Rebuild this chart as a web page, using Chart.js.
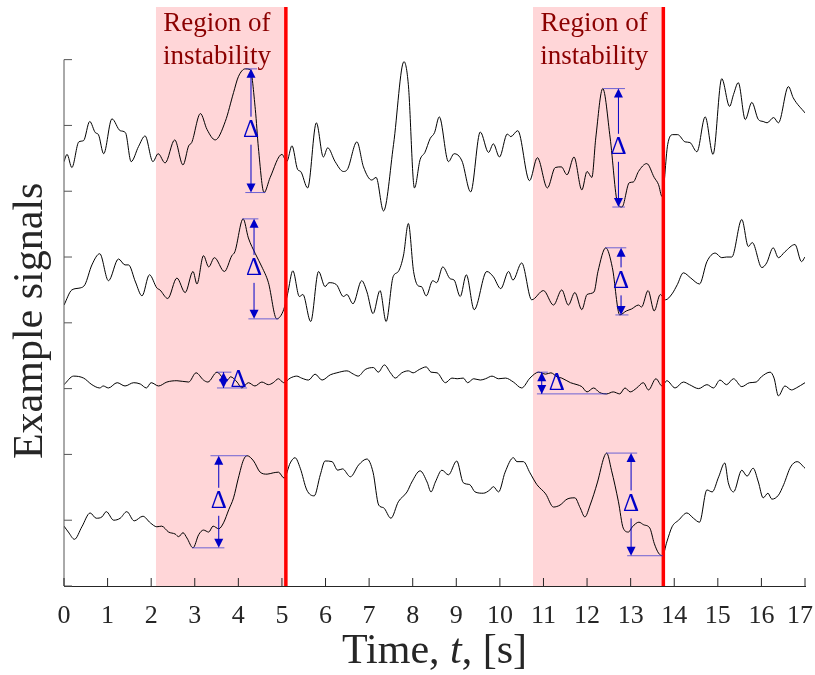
<!DOCTYPE html>
<html>
<head>
<meta charset="utf-8">
<script src="https://cdn.jsdelivr.net/npm/chart.js@4/dist/chart.umd.min.js"></script>
<style>
  html, body { margin: 0; padding: 0; background: #fff; }
  canvas { display: block; }
</style>
</head>
<body>
<canvas id="signals" width="815" height="675"></canvas>
<script>
// Four example traces, top to bottom: sample times [s] and amplitudes
var t1 = [0.00, 0.07, 0.18, 0.34, 0.45, 0.59, 0.72, 0.79, 0.91, 1.10,
          1.29, 1.41, 1.54, 1.71, 1.86, 2.04, 2.16, 2.32, 2.54, 2.73,
          2.86, 2.93, 3.13, 3.28, 3.47, 3.70, 3.89, 4.00, 4.16, 4.27,
          4.39, 4.46, 4.59, 4.73, 5.00, 5.11, 5.23, 5.36, 5.43, 5.59,
          5.79, 5.95, 6.05, 6.22, 6.41, 6.50, 6.72, 6.87, 7.06, 7.16,
          7.33, 7.56, 7.80, 7.90, 8.04, 8.17, 8.28, 8.40, 8.50, 8.61,
          8.82, 8.95, 9.13, 9.33, 9.55, 9.74, 9.85, 9.99, 10.17, 10.25,
          10.41, 10.68, 10.86, 11.09, 11.27, 11.41, 11.54, 11.70, 11.88, 12.00,
          12.11, 12.20, 12.36, 12.53, 12.70, 12.80, 12.97, 13.06, 13.18, 13.37,
          13.54, 13.64, 13.72, 13.85, 13.97, 14.08, 14.25, 14.36, 14.52, 14.71,
          14.89, 15.09, 15.27, 15.36, 15.47, 15.63, 15.78, 15.93, 16.04, 16.13,
          16.28, 16.39, 16.62, 16.73, 17.00];
var s1 = [6.45, 6.56, 6.36, 6.75, 6.77, 7.06, 6.89, 6.86, 6.57, 7.10,
          6.92, 6.89, 6.45, 6.68, 6.84, 6.45, 6.57, 6.43, 6.78, 6.40,
          6.69, 6.74, 7.18, 6.94, 6.78, 7.06, 7.50, 7.74, 7.86, 7.85,
          7.24, 6.66, 5.98, 6.21, 6.56, 6.45, 6.69, 6.33, 6.30, 6.05,
          7.04, 6.52, 6.66, 6.45, 6.30, 6.33, 6.75, 6.37, 6.17, 6.21,
          5.70, 6.71, 7.97, 7.62, 6.05, 6.48, 6.59, 6.80, 6.89, 7.13,
          6.45, 6.57, 6.46, 5.99, 6.90, 6.59, 6.72, 6.52, 6.87, 6.83,
          6.92, 6.16, 6.51, 6.05, 6.36, 6.37, 6.25, 6.52, 6.02, 6.30,
          6.21, 6.81, 7.56, 6.81, 5.82, 5.76, 6.13, 6.14, 6.30, 6.42,
          6.21, 6.10, 5.92, 6.71, 6.86, 6.86, 6.75, 6.74, 6.60, 7.13,
          6.56, 7.71, 7.29, 7.47, 7.65, 7.09, 7.35, 7.09, 7.06, 7.04,
          7.12, 7.04, 7.59, 7.42, 7.19];

var t2 = [0.00, 0.18, 0.37, 0.48, 0.64, 0.82, 1.02, 1.25, 1.40, 1.48,
          1.64, 1.79, 1.96, 2.13, 2.20, 2.38, 2.59, 2.78, 2.96, 3.05,
          3.20, 3.32, 3.45, 3.68, 3.85, 3.92, 4.11, 4.23, 4.39, 4.54,
          4.69, 4.88, 5.04, 5.13, 5.25, 5.40, 5.48, 5.66, 5.84, 5.99,
          6.08, 6.25, 6.41, 6.49, 6.63, 6.83, 6.95, 7.09, 7.25, 7.39,
          7.55, 7.67, 7.79, 7.90, 8.02, 8.13, 8.20, 8.31, 8.46, 8.55,
          8.69, 8.86, 8.95, 9.09, 9.23, 9.41, 9.70, 9.85, 10.02, 10.20,
          10.30, 10.50, 10.73, 11.00, 11.23, 11.42, 11.57, 11.72, 11.88, 12.00,
          12.16, 12.25, 12.43, 12.58, 12.75, 12.90, 13.02, 13.18, 13.25, 13.40,
          13.54, 13.68, 13.80, 13.95, 14.07, 14.21, 14.38, 14.58, 14.75, 14.94,
          15.09, 15.20, 15.32, 15.55, 15.70, 15.79, 16.01, 16.12, 16.27, 16.39,
          16.54, 16.77, 16.92, 17.00];
var s2 = [4.27, 4.50, 4.53, 4.58, 4.88, 5.05, 4.64, 4.97, 4.88, 4.88,
          4.62, 4.41, 4.73, 4.53, 4.50, 4.37, 4.68, 4.46, 4.78, 4.59,
          5.02, 4.85, 4.99, 4.78, 5.02, 5.08, 5.58, 5.29, 5.05, 4.85,
          4.61, 4.06, 4.20, 4.44, 4.79, 4.40, 4.43, 4.02, 4.78, 4.55,
          4.61, 4.58, 4.40, 4.43, 4.29, 4.64, 4.47, 4.14, 4.49, 4.02,
          4.70, 4.78, 5.03, 5.51, 4.78, 4.56, 4.55, 4.41, 4.64, 4.61,
          4.85, 4.67, 4.65, 4.40, 4.73, 4.20, 4.78, 4.70, 4.52, 4.78,
          4.65, 4.91, 4.35, 4.49, 4.27, 4.50, 4.27, 4.46, 4.20, 4.43,
          4.47, 4.78, 5.14, 4.84, 4.12, 4.18, 4.21, 4.27, 4.24, 4.49,
          4.18, 4.43, 4.35, 4.44, 4.58, 4.76, 4.68, 4.59, 4.93, 5.06,
          4.99, 5.00, 5.00, 5.57, 5.16, 5.22, 4.84, 4.91, 5.14, 4.99,
          5.08, 5.19, 4.93, 5.00];

var t3 = [0.00, 0.22, 0.45, 0.64, 0.82, 0.90, 1.02, 1.22, 1.40, 1.60,
          1.75, 1.89, 2.00, 2.17, 2.36, 2.59, 2.86, 3.03, 3.20, 3.30,
          3.51, 3.65, 3.75, 3.82, 3.97, 4.08, 4.23, 4.38, 4.54, 4.69,
          4.80, 4.92, 5.04, 5.19, 5.34, 5.45, 5.61, 5.76, 5.92, 6.11,
          6.26, 6.49, 6.64, 6.75, 6.91, 7.10, 7.21, 7.35, 7.49, 7.60,
          7.75, 7.90, 8.01, 8.15, 8.31, 8.42, 8.56, 8.75, 8.90, 9.02,
          9.16, 9.26, 9.40, 9.55, 9.67, 9.82, 9.97, 10.13, 10.31, 10.50,
          10.69, 10.89, 11.05, 11.17, 11.31, 11.42, 11.62, 11.77, 11.88, 12.00,
          12.15, 12.29, 12.45, 12.60, 12.75, 12.87, 12.99, 13.14, 13.29, 13.41,
          13.58, 13.72, 13.83, 14.02, 14.21, 14.35, 14.56, 14.75, 14.90, 15.05,
          15.20, 15.36, 15.55, 15.73, 15.88, 16.00, 16.20, 16.29, 16.39, 16.54,
          16.69, 16.80, 17.00];
var s3 = [3.06, 3.19, 3.16, 3.06, 3.01, 3.04, 3.01, 3.09, 3.04, 3.09,
          3.07, 3.01, 3.09, 3.04, 3.10, 3.12, 3.10, 3.24, 3.13, 3.10,
          3.25, 3.16, 3.13, 3.18, 3.10, 3.01, 3.09, 3.04, 3.10, 3.06,
          3.09, 3.15, 3.09, 3.16, 3.19, 3.16, 3.13, 3.22, 3.13, 3.21,
          3.24, 3.27, 3.22, 3.19, 3.29, 3.32, 3.25, 3.36, 3.24, 3.16,
          3.24, 3.27, 3.24, 3.29, 3.33, 3.25, 3.24, 3.09, 3.16, 3.15,
          3.16, 3.09, 3.15, 3.13, 3.15, 3.19, 3.15, 3.16, 3.10, 3.01,
          3.16, 3.25, 3.22, 3.24, 3.18, 3.16, 3.09, 3.06, 3.03, 2.95,
          3.01, 2.94, 2.92, 2.95, 2.92, 3.01, 2.95, 3.01, 3.09, 2.98,
          3.15, 3.04, 3.12, 3.01, 3.10, 3.06, 3.00, 3.06, 3.01, 3.13,
          3.06, 3.15, 3.03, 3.09, 3.10, 3.18, 3.25, 3.16, 2.89, 3.04,
          2.98, 3.01, 3.09];

var t4 = [0.00, 0.10, 0.24, 0.41, 0.60, 0.74, 0.87, 0.97, 1.14, 1.29,
          1.44, 1.61, 1.81, 1.98, 2.13, 2.24, 2.40, 2.55, 2.63, 2.73,
          2.82, 2.96, 3.09, 3.20, 3.32, 3.42, 3.55, 3.66, 3.78, 3.89,
          4.00, 4.12, 4.20, 4.35, 4.50, 4.66, 4.80, 4.92, 5.05, 5.19,
          5.30, 5.42, 5.57, 5.74, 5.88, 5.99, 6.15, 6.28, 6.39, 6.57,
          6.76, 6.95, 7.09, 7.22, 7.33, 7.50, 7.67, 7.87, 7.98, 8.17,
          8.33, 8.42, 8.52, 8.67, 8.82, 9.01, 9.16, 9.31, 9.43, 9.62,
          9.77, 9.85, 9.97, 10.12, 10.31, 10.39, 10.54, 10.69, 10.85, 11.05,
          11.23, 11.38, 11.54, 11.72, 11.84, 11.95, 12.07, 12.24, 12.39, 12.45,
          12.56, 12.72, 12.83, 12.95, 13.04, 13.19, 13.30, 13.44, 13.54, 13.64,
          13.73, 13.83, 13.95, 14.10, 14.29, 14.44, 14.58, 14.75, 14.87, 15.02,
          15.16, 15.24, 15.36, 15.55, 15.67, 15.81, 15.93, 16.04, 16.15, 16.24,
          16.39, 16.51, 16.67, 16.82, 17.00];
var s4 = [0.91, 0.82, 0.71, 0.90, 1.11, 1.03, 1.05, 1.13, 1.00, 1.03,
          1.13, 0.99, 1.06, 0.96, 0.90, 0.91, 0.82, 0.79, 0.75, 0.81,
          0.73, 0.58, 0.78, 0.85, 0.82, 0.91, 0.87, 0.96, 1.16, 1.34,
          1.64, 1.92, 1.98, 1.90, 1.73, 1.70, 1.72, 1.73, 1.64, 1.87,
          1.95, 1.79, 1.46, 1.37, 1.69, 1.90, 1.89, 1.76, 1.78, 1.66,
          1.84, 1.93, 1.73, 1.23, 1.19, 1.03, 1.28, 1.43, 1.58, 1.75,
          1.58, 1.43, 1.58, 1.76, 1.69, 1.90, 1.57, 1.54, 1.43, 1.41,
          1.46, 1.51, 1.43, 1.73, 1.95, 1.89, 1.89, 1.72, 1.54, 1.40,
          1.20, 1.23, 1.32, 1.34, 1.19, 1.05, 1.23, 1.58, 1.96, 2.02,
          1.76, 1.28, 0.88, 0.82, 0.90, 0.97, 0.93, 0.88, 0.65, 0.50,
          0.46, 0.67, 0.90, 1.00, 1.11, 1.03, 0.97, 1.46, 1.43, 1.66,
          1.87, 1.57, 1.43, 1.76, 1.67, 1.79, 1.58, 1.34, 1.41, 1.32,
          1.38, 1.54, 1.81, 1.89, 1.79];

// Shaded windows [s]; each ends at the red marker
var regionStart = [2.11, 10.76];
var regionEnd = [5.09, 13.75];
var regionLines = ['Region of', 'instability'];

// Δ markers: arrow time, peak and trough amplitude, and the time extent of each guide line
var deltaTime = [4.29, 12.72, 4.36, 12.78, 3.66, 10.96, 3.55, 13.01];
var deltaHigh = [7.86, 7.56, 5.58, 5.14, 3.25, 3.25, 1.98, 2.02];
var deltaLow  = [5.98, 5.76, 4.06, 4.12, 3.01, 2.92, 0.58, 0.46];
var highFrom  = [4.16, 12.37, 4.09, 12.42, 3.51, 10.85, 3.36, 12.44];
var highTo    = [4.43, 12.87, 4.46, 12.90, 3.84, 11.10, 4.20, 13.15];
var lowFrom   = [4.16, 12.58, 4.23, 12.65, 3.51, 10.85, 2.94, 12.92];
var lowTo     = [4.62, 12.87, 4.92, 12.95, 4.20, 12.46, 3.68, 13.74];
var deltaBeside = [false, false, false, false, true, true, false, false];

var yTicks = [0, 1, 2, 3, 4, 5, 6, 7, 8];

var serif = "'Liberation Serif', 'Times New Roman', serif";
var blue = '#0000c8';
var axisInk = '#262626';

function trace(times, values) {
    return {
        data: times.map(function (t, i) { return { x: t, y: values[i] }; }),
        borderColor: '#000',
        borderWidth: 1,
        pointRadius: 0,
        cubicInterpolationMode: 'monotone'
    };
}

function segment(ctx, x0, y0, x1, y1) {
    ctx.beginPath();
    ctx.moveTo(x0, y0);
    ctx.lineTo(x1, y1);
    ctx.stroke();
}

function head(ctx, x, y, dir) {
    // filled triangle with its tip at (x, y); dir -1 points up, +1 down
    ctx.beginPath();
    ctx.moveTo(x, y);
    ctx.lineTo(x - 4.5, y - dir * 9);
    ctx.lineTo(x + 4.5, y - dir * 9);
    ctx.closePath();
    ctx.fill();
}

var decorations = {
    id: 'decorations',
    beforeDraw: function (chart) {
        var ctx = chart.ctx, x = chart.scales.x, area = chart.chartArea;
        ctx.save();
        ctx.fillStyle = '#fff';
        ctx.fillRect(0, 0, chart.width, chart.height);
        ctx.fillStyle = '#ffd6d8';
        for (var i = 0; i < regionStart.length; i++) {
            var x0 = x.getPixelForValue(regionStart[i]);
            var x1 = x.getPixelForValue(regionEnd[i]);
            ctx.fillRect(x0, area.top, x1 - x0, area.bottom - area.top);
        }
        ctx.restore();
    },
    afterDatasetsDraw: function (chart) {
        var ctx = chart.ctx, x = chart.scales.x, y = chart.scales.y, area = chart.chartArea;
        var i, px;
        ctx.save();

        // red markers at the end of each window
        ctx.strokeStyle = '#ff0000';
        ctx.lineWidth = 3.5;
        for (i = 0; i < regionEnd.length; i++) {
            px = x.getPixelForValue(regionEnd[i]);
            segment(ctx, px, area.top, px, area.bottom);
        }

        // window captions
        ctx.fillStyle = '#8b0000';
        ctx.font = '27px ' + serif;
        ctx.textAlign = 'center';
        ctx.textBaseline = 'alphabetic';
        for (i = 0; i < regionStart.length; i++) {
            px = (x.getPixelForValue(regionStart[i]) + x.getPixelForValue(regionEnd[i])) / 2 - 4;
            ctx.fillText(regionLines[0], px, area.top + 24);
            ctx.fillText(regionLines[1], px, area.top + 57);
        }

        // Δ markers
        ctx.font = '25px ' + serif;
        ctx.textBaseline = 'middle';
        ctx.textAlign = 'center';
        for (i = 0; i < deltaTime.length; i++) {
            var ax = x.getPixelForValue(deltaTime[i]);
            var yTop = y.getPixelForValue(deltaHigh[i]);
            var yBot = y.getPixelForValue(deltaLow[i]);
            var mid = (yTop + yBot) / 2;

            ctx.strokeStyle = 'rgba(60, 60, 210, 0.75)';
            ctx.lineWidth = 1;
            segment(ctx, x.getPixelForValue(highFrom[i]), yTop, x.getPixelForValue(highTo[i]), yTop);
            segment(ctx, x.getPixelForValue(lowFrom[i]), yBot, x.getPixelForValue(lowTo[i]), yBot);

            ctx.strokeStyle = blue;
            ctx.fillStyle = blue;
            if (deltaBeside[i]) {
                segment(ctx, ax, yTop, ax, yBot);
                ctx.fillText('Δ', ax + 15, mid);
            } else {
                segment(ctx, ax, yTop + 4, ax, mid - 14);
                segment(ctx, ax, mid + 14, ax, yBot - 4);
                ctx.fillText('Δ', ax, mid);
            }
            head(ctx, ax, yTop, -1);
            head(ctx, ax, yBot, 1);
        }

        // left axis with inward ticks
        var left = area.left;
        ctx.strokeStyle = '#555';
        ctx.lineWidth = 1;
        segment(ctx, left, y.getPixelForValue(yTicks[0]), left, y.getPixelForValue(yTicks[yTicks.length - 1]));
        yTicks.forEach(function (v) {
            var py = y.getPixelForValue(v);
            segment(ctx, left, py, left + 8, py);
        });

        // time axis: inward ticks and labels, the last label kept inside the canvas
        ctx.strokeStyle = axisInk;
        ctx.fillStyle = axisInk;
        ctx.font = '26px ' + serif;
        ctx.textBaseline = 'alphabetic';
        x.ticks.forEach(function (tk) {
            var p = x.getPixelForValue(tk.value);
            segment(ctx, p, area.bottom, p, area.bottom - 8);
            var label = String(tk.value);
            var w = ctx.measureText(label).width;
            var lx = Math.min(p - w / 2, chart.width - 2 - w);
            ctx.textAlign = 'left';
            ctx.fillText(label, lx, 623);
        });

        // axis titles
        ctx.textAlign = 'left';
        var upright = '42px ' + serif, slanted = 'italic 42px ' + serif;
        var parts = [['Time, ', upright], ['t', slanted], [', [s]', upright]];
        var total = 0;
        parts.forEach(function (p) { ctx.font = p[1]; total += ctx.measureText(p[0]).width; });
        var cx = (area.left + area.right) / 2 - total / 2;
        parts.forEach(function (p) {
            ctx.font = p[1];
            ctx.fillText(p[0], cx, 663);
            cx += ctx.measureText(p[0]).width;
        });

        ctx.translate(42, (y.getPixelForValue(0) + y.getPixelForValue(8)) / 2 - 2);
        ctx.rotate(-Math.PI / 2);
        ctx.textAlign = 'center';
        ctx.font = upright;
        ctx.fillText('Example signals', 0, 0);

        ctx.restore();
    }
};

new Chart(document.getElementById('signals').getContext('2d'), {
    type: 'line',
    data: {
        datasets: [trace(t1, s1), trace(t2, s2), trace(t3, s3), trace(t4, s4)]
    },
    options: {
        responsive: false,
        animation: false,
        devicePixelRatio: 1,
        layout: { padding: { left: 64, right: 10, top: 7, bottom: 0 } },
        plugins: {
            legend: { display: false },
            tooltip: { enabled: false }
        },
        scales: {
            x: {
                type: 'linear',
                min: 0,
                max: 17,
                ticks: { stepSize: 1, autoSkip: false, display: false },
                grid: { display: true, drawOnChartArea: false, drawTicks: false },
                border: { display: true, color: axisInk, width: 1 },
                afterFit: function (scale) {
                    scale.height = 89;
                    scale.paddingLeft = 0;
                    scale.paddingRight = 0;
                }
            },
            y: {
                type: 'linear',
                min: 0,
                max: 8.8,
                display: false
            }
        }
    },
    plugins: [decorations]
});
</script>
</body>
</html>
